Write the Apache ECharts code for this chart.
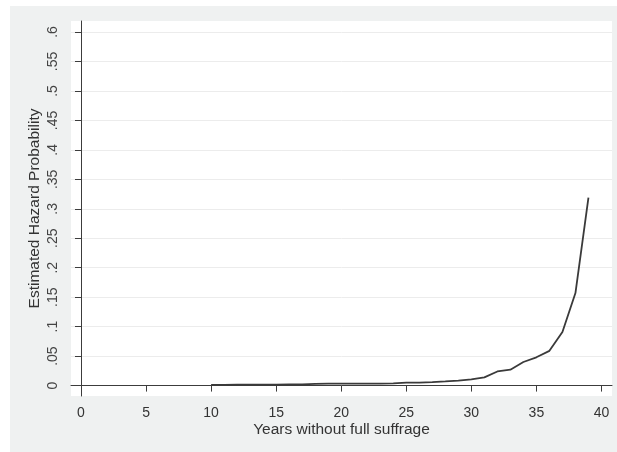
<!DOCTYPE html>
<html>
<head>
<meta charset="utf-8">
<script src="https://cdn.jsdelivr.net/npm/echarts@6/dist/echarts.min.js"></script>
<style>
  html, body { margin: 0; padding: 0; background: #ffffff; }
  #chart { width: 617px; height: 452px; }
</style>
</head>
<body>
<div id="chart"></div>
<script>
// years without full suffrage
const years = [10, 11, 12, 13, 14, 15, 16, 17, 18, 19, 20, 21, 22, 23, 24,
  25, 26, 27, 28, 29, 30, 31, 32, 33, 34, 35, 36, 37, 38, 39]
// estimated hazard probability
const hazard = [0.001, 0.001, 0.0015, 0.0015, 0.0015, 0.0015, 0.002, 0.0022, 0.003, 0.0034,
  0.0034, 0.0034, 0.0034, 0.0034, 0.0036, 0.005, 0.005, 0.0058, 0.007, 0.0085,
  0.0107, 0.014, 0.024, 0.027, 0.040, 0.048, 0.059, 0.091, 0.157, 0.319]
const xTicks = [0, 5, 10, 15, 20, 25, 30, 35, 40]
const yTicks = [0, 0.05, 0.1, 0.15, 0.2, 0.25, 0.3, 0.35, 0.4, 0.45, 0.5, 0.55, 0.6]

const font = '"Liberation Sans", Arial, Helvetica, sans-serif'
const axisColor = '#3c3c3c'

function stataLabel(v) {
  if (Math.abs(v) < 1e-9) return '0'
  return String(+v.toFixed(2)).replace(/^0\./, '.')
}

let myChart = echarts.init(document.getElementById('chart'))
let option = {
  animation: false,
  backgroundColor: '#ffffff',
  graphic: [
    {
      type: 'rect',
      z: -10,
      shape: {x: 10, y: 6, width: 607, height: 446},
      style: {fill: '#eff1f1'}
    }
  ],
  grid: {
    show: true,
    left: 71,
    right: 5,
    top: 21,
    bottom: 56,
    backgroundColor: '#ffffff',
    borderWidth: 0
  },
  xAxis: {
    type: 'value',
    min: -0.768,
    max: 40.81,
    name: 'Years without full suffrage',
    nameLocation: 'middle',
    nameGap: 26,
    nameMoveOverlap: false,
    nameTextStyle: {fontFamily: font, fontSize: 15.5, color: '#333'},
    axisLine: {show: true, lineStyle: {color: axisColor, width: 1}},
    axisTick: {show: true, length: 6, customValues: xTicks, lineStyle: {color: axisColor}},
    axisLabel: {
      customValues: xTicks,
      margin: 10,
      fontFamily: font,
      fontSize: 14,
      color: '#333'
    },
    splitLine: {show: false}
  },
  yAxis: {
    type: 'value',
    min: -0.01766,
    max: 0.6187,
    name: 'Estimated Hazard Probability',
    nameLocation: 'middle',
    nameGap: 28,
    nameMoveOverlap: false,
    nameTextStyle: {fontFamily: font, fontSize: 15.5, color: '#333'},
    axisLine: {show: true, lineStyle: {color: axisColor, width: 1}},
    axisTick: {show: true, length: 6, customValues: yTicks, lineStyle: {color: axisColor}},
    axisLabel: {
      customValues: yTicks,
      rotate: 90,
      margin: 11,
      fontFamily: font,
      fontSize: 14,
      color: '#444',
      formatter: stataLabel
    },
    splitLine: {show: true, lineStyle: {color: '#ececec', width: 1}}
  },
  series: [
    {
      type: 'line',
      data: years.map((y, i) => [y, hazard[i]]),
      showSymbol: false,
      lineStyle: {color: '#3a3a3a', width: 1.8},
      silent: true
    }
  ]
}
myChart.setOption(option)
</script>
</body>
</html>
